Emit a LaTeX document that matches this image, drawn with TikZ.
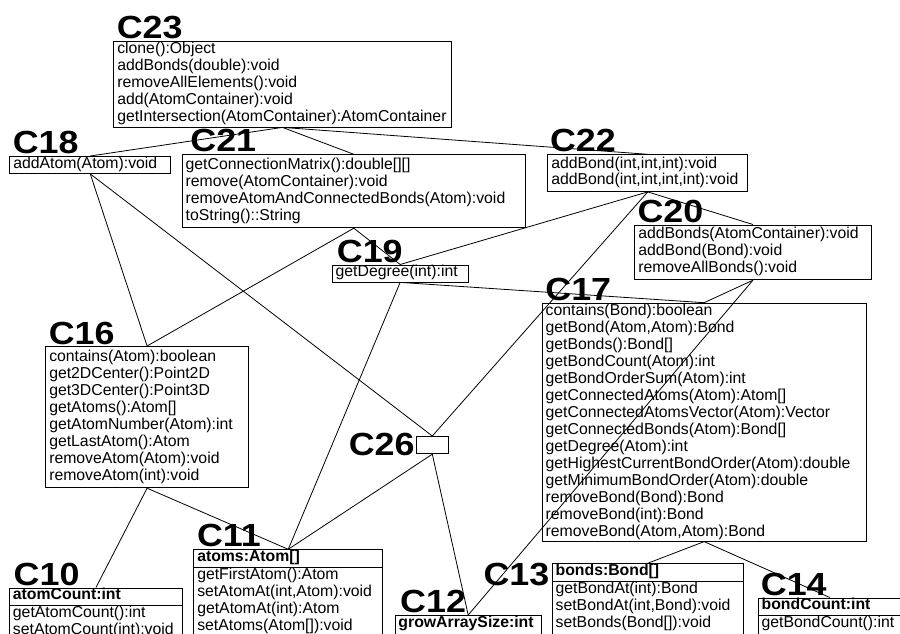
\documentclass[tikz,border=0pt]{standalone}
\usepackage{fontspec}
\setmainfont{Liberation Sans}
\newfontfamily\lblfont{Liberation Sans}[FakeStretch=1.12]
\newcommand\cl[1]{\strut#1}
\tikzset{
  cls/.style={draw, line width=0.9pt, rectangle, inner xsep=3.5pt, inner ysep=0pt,
    anchor=north west, align=left, font=\fontsize{15.8}{17}\selectfont},
  lbl/.style={inner sep=0pt, font=\lblfont\bfseries\fontsize{32}{34}\selectfont},
  edge/.style={line width=0.8pt},
  sep/.style={line width=0.9pt}
}
\begin{document}
\begin{tikzpicture}[x=1pt,y=-1pt]
\useasboundingbox (0,0) rectangle (900,634);
\fill[white] (0,0) rectangle (900,634);
\clip (0,0) rectangle (900,634);

% classes
\node[cls, text width=330.4pt, minimum width=337.4pt, minimum height=85.5pt] (c23) at (113.3,41)
  {\cl{clone():Object}\\\cl{addBonds(double):void}\\\cl{removeAllElements():void}\\\cl{add(AtomContainer):void}\\\cl{getIntersection(AtomContainer):AtomContainer}};
\node[cls, text width=154pt, minimum width=161pt, minimum height=16pt] (c18) at (9.3,156)
  {\cl{addAtom(Atom):void}};
\node[cls, text width=336.3pt, minimum width=343.3pt, minimum height=73pt] (c21) at (181.7,154.3)
  {\cl{getConnectionMatrix():double[][]}\\\cl{remove(AtomContainer):void}\\\cl{removeAtomAndConnectedBonds(Atom):void}\\\cl{toString()::String}};
\node[cls, text width=193pt, minimum width=200pt, minimum height=36.7pt] (c22) at (547.3,154.3)
  {\cl{addBond(int,int,int):void}\\\cl{addBond(int,int,int,int):void}};
\node[cls, text width=229.4pt, minimum width=236.4pt, minimum height=54.8pt] (c20) at (634.3,224.5)
  {\cl{addBonds(AtomContainer):void}\\\cl{addBond(Bond):void}\\\cl{removeAllBonds():void}};
\node[cls, text width=129pt, minimum width=136pt, minimum height=17pt] (c19) at (331.7,264.5)
  {\cl{getDegree(int):int}};
\node[cls, text width=317pt, minimum width=324pt, minimum height=238pt] (c17) at (541.7,302.7)
  {\cl{contains(Bond):boolean}\\\cl{getBond(Atom,Atom):Bond}\\\cl{getBonds():Bond[]}\\\cl{getBondCount(Atom):int}\\\cl{getBondOrderSum(Atom):int}\\\cl{getConnectedAtoms(Atom):Atom[]}\\\cl{getConnectedAtomsVector(Atom):Vector}\\\cl{getConnectedBonds(Atom):Bond[]}\\\cl{getDegree(Atom):int}\\\cl{getHighestCurrentBondOrder(Atom):double}\\\cl{getMinimumBondOrder(Atom):double}\\\cl{removeBond(Bond):Bond}\\\cl{removeBond(int):Bond}\\\cl{removeBond(Atom,Atom):Bond}};
\node[cls, text width=195.7pt, minimum width=202.7pt, minimum height=141.3pt] (c16) at (45.3,346)
  {\cl{contains(Atom):boolean}\\\cl{get2DCenter():Point2D}\\\cl{get3DCenter():Point3D}\\\cl{getAtoms():Atom[]}\\\cl{getAtomNumber(Atom):int}\\\cl{getLastAtom():Atom}\\\cl{removeAtom(Atom):void}\\\cl{removeAtom(int):void}};
\node[draw, line width=0.9pt, rectangle, inner sep=0pt, anchor=north west,
  minimum width=31.7pt, minimum height=17.3pt] (c26) at (416,436) {};

% classes with an attribute compartment
\node[cls, text width=182pt, minimum width=189pt] (c11) at (193.3,549.3)
  {\cl{\textbf{atoms:Atom[]}}\\[1pt]\cl{getFirstAtom():Atom}\\\cl{setAtomAt(int,Atom):void}\\\cl{getAtomAt(int):Atom}\\\cl{setAtoms(Atom[]):void}\\\cl{}};
\node[cls, text width=166pt, minimum width=173pt] (c10) at (9,587.5)
  {\cl{\textbf{atomCount:int}}\\[1pt]\cl{getAtomCount():int}\\\cl{setAtomCount(int):void}\\\cl{}};
\node[cls, text width=139.5pt, minimum width=146.5pt] (c12) at (394.5,615)
  {\cl{\textbf{growArraySize:int}}\\[1pt]\cl{}};
\node[cls, text width=184pt, minimum width=191pt] (c13) at (551.7,563.3)
  {\cl{\textbf{bonds:Bond[]}}\\[1pt]\cl{getBondAt(int):Bond}\\\cl{setBondAt(int,Bond):void}\\\cl{setBonds(Bond[]):void}\\\cl{}};
\node[cls, text width=136.3pt, minimum width=143.3pt] (c14) at (757.7,597.5)
  {\cl{\textbf{bondCount:int}}\\[1pt]\cl{getBondCount():int}\\\cl{}};

\foreach \c in {c11,c10,c13,c14}
  \draw[sep] ([yshift=-18pt]\c.north west) -- ([yshift=-18pt]\c.north east);

% labels
\node[lbl, anchor=base west] (l23) at ([xshift=3.3pt,yshift=2.5pt]c23.north west) {C23};
\node[lbl, anchor=base west] (l18) at ([xshift=3.3pt,yshift=2.5pt]c18.north west) {C18};
\node[lbl, anchor=base west] (l21) at ([xshift=8.5pt,yshift=2.5pt]c21.north west) {C21};
\node[lbl, anchor=base west] (l22) at ([xshift=2.5pt,yshift=2.5pt]c22.north west) {C22};
\node[lbl, anchor=base west] (l20) at ([xshift=3pt,yshift=2.5pt]c20.north west) {C20};
\node[lbl, anchor=base west] (l19) at ([xshift=5pt,yshift=2.5pt]c19.north west) {C19};
\node[lbl, anchor=base west] (l17) at ([xshift=3.5pt,yshift=2.5pt]c17.north west) {C17};
\node[lbl, anchor=base west] (l16) at ([xshift=3.3pt,yshift=2pt]c16.north west) {C16};
\node[lbl, anchor=base east] (l26) at ([xshift=-1.3pt,yshift=-1.7pt]c26.south west) {C26};
\node[lbl, anchor=base west] (l11) at ([xshift=3.5pt,yshift=2.5pt]c11.north west) {C11};
\node[lbl, anchor=base west] (l10) at ([xshift=4.5pt,yshift=2.3pt]c10.north west) {C10};
\node[lbl, anchor=base west] (l12) at ([xshift=5.5pt,yshift=2.3pt]c12.north west) {C12};
\node[lbl, anchor=base east] (l13) at ([xshift=-2.2pt,yshift=-21.7pt]c13.north west) {C13};
\node[lbl, anchor=base west] (l14) at ([xshift=3pt,yshift=2.5pt]c14.north west) {C14};

% connectors
\draw[edge] (c23.south) -- (c18.north);
\draw[edge] (c23.south) -- (c21.north);
\draw[edge] (c23.south) -- (c22.north);
\draw[edge] (c18.south) -- (c16.north);
\draw[edge] (c18.south) -- (c26.north);
\draw[edge] (c21.south) -- (c16.north);
\draw[edge] (c21.south) -- (c19.north);
\draw[edge] (c22.south) -- (c19.north);
\draw[edge] (c22.south) -- (c20.north);
\draw[edge] (c22.south) -- (c26.north);
\draw[edge] (c20.south) -- (c17.north);
\draw[edge] (c20.south) -- (c12.north);
\draw[edge] (c19.south) -- (c17.north);
\draw[edge] (c19.south) -- (c11.north);
\draw[edge] (c16.south) -- (c10.north);
\draw[edge] (c16.south) -- (c11.north);
\draw[edge] (c26.south) -- (c11.north);
\draw[edge] (c26.south) -- (c12.north);
\draw[edge] (c17.south) -- (c13.north);
\draw[edge] (c17.south) -- (c14.north);
\end{tikzpicture}
\end{document}
